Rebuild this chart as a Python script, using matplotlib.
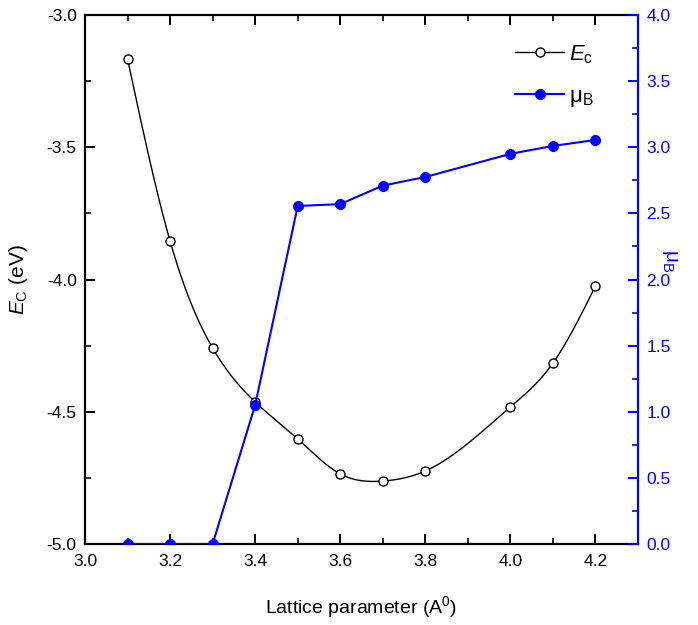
import numpy as np
import matplotlib
matplotlib.use("Agg")
import matplotlib.pyplot as plt
from matplotlib.ticker import MultipleLocator, FormatStrFormatter
from matplotlib.lines import Line2D

plt.rcParams['font.family'] = ['Liberation Sans', 'DejaVu Sans']
plt.rcParams['mathtext.fontset'] = 'custom'
plt.rcParams['mathtext.rm'] = 'Liberation Sans'
plt.rcParams['mathtext.it'] = 'Liberation Sans:italic'

lattice = [3.1, 3.2, 3.3, 3.4, 3.5, 3.6, 3.7, 3.8, 4.0, 4.1, 4.2]
ec = [-3.166, -3.855, -4.259, -4.463, -4.603, -4.735, -4.762, -4.724, -4.482, -4.316, -4.025]
mub = [0.0, 0.0, 0.0, 1.05, 2.556, 2.57, 2.71, 2.775, 2.95, 3.01, 3.055]

BLUE = '#0000ff'


def natural_spline(x, y, n=400):
    x = np.asarray(x, float)
    y = np.asarray(y, float)
    m = len(x)
    h = np.diff(x)
    A = np.zeros((m, m))
    b = np.zeros(m)
    A[0, 0] = 1
    A[-1, -1] = 1
    for i in range(1, m - 1):
        A[i, i - 1] = h[i - 1]
        A[i, i] = 2 * (h[i - 1] + h[i])
        A[i, i + 1] = h[i]
        b[i] = 3 * ((y[i + 1] - y[i]) / h[i] - (y[i] - y[i - 1]) / h[i - 1])
    c = np.linalg.solve(A, b)
    xs = np.linspace(x[0], x[-1], n)
    ys = np.empty_like(xs)
    for k, xv in enumerate(xs):
        i = min(np.searchsorted(x, xv, side='right') - 1, m - 2)
        dx = xv - x[i]
        bb = (y[i + 1] - y[i]) / h[i] - h[i] * (c[i + 1] + 2 * c[i]) / 3
        d = (c[i + 1] - c[i]) / (3 * h[i])
        ys[k] = y[i] + bb * dx + c[i] * dx ** 2 + d * dx ** 3
    return xs, ys


fig = plt.figure(figsize=(6.98, 6.25), dpi=100)
ax = fig.add_axes([85 / 698, 1 - 544 / 625, (638 - 85) / 698, (544 - 15) / 625])
ax2 = ax.twinx()

xs, ys = natural_spline(lattice, ec)
ax.plot(xs, ys, color='black', lw=1.0, zorder=2)
ax.plot(lattice, ec, 'o', mfc='white', mec='black', ms=6.5, mew=1.0, zorder=3)
ax2.plot(lattice, mub, '-o', color=BLUE, lw=1.5, ms=7, zorder=3)

ax.set_xlim(3.0, 4.3)
ax.set_ylim(-5.0, -3.0)
ax2.set_ylim(0.0, 4.0)

ax.xaxis.set_major_locator(MultipleLocator(0.2))
ax.xaxis.set_minor_locator(MultipleLocator(0.1))
ax.yaxis.set_major_locator(MultipleLocator(0.5))
ax.yaxis.set_minor_locator(MultipleLocator(0.25))
ax2.yaxis.set_major_locator(MultipleLocator(0.5))
ax2.yaxis.set_minor_locator(MultipleLocator(0.25))
ax.xaxis.set_major_formatter(FormatStrFormatter('%.1f'))
ax.yaxis.set_major_formatter(FormatStrFormatter('%.1f'))
ax2.yaxis.set_major_formatter(FormatStrFormatter('%.1f'))

for s in ['left', 'bottom', 'top']:
    ax.spines[s].set_linewidth(1.6)
ax.spines['right'].set_visible(False)
for s in ['left', 'bottom', 'top']:
    ax2.spines[s].set_visible(False)
ax2.spines['right'].set_color(BLUE)
ax2.spines['right'].set_linewidth(1.6)

ax.tick_params(axis='x', which='both', direction='in', top=True, labelsize=12.5, pad=7)
ax.tick_params(axis='y', which='both', direction='in', right=False, labelsize=12.5, pad=6)
ax.tick_params(which='major', length=7, width=1.4)
ax.tick_params(which='minor', length=4, width=1.2)
ax2.tick_params(axis='y', which='both', direction='in', colors=BLUE, labelsize=12.5, pad=6)
ax2.tick_params(which='major', length=7, width=1.4)
ax2.tick_params(which='minor', length=4, width=1.2)

ax.set_xlabel('Lattice parameter (A$^{0}$)', fontsize=14, labelpad=18)
ax.set_ylabel('$E_{\\mathrm{C}}$ (eV)', fontsize=15, labelpad=12)
ax2.set_ylabel('$\\mathrm{\\mu}_{\\mathrm{B}}$', fontsize=15, color=BLUE, rotation=270,
               ha='center', va='center')
ax2.yaxis.set_label_coords(1.057, 0.535)

h1 = Line2D([], [], color='black', lw=1.0, marker='o', mfc='white', mec='black', ms=6.5)
h2 = Line2D([], [], color=BLUE, lw=1.5, marker='o', ms=7)
leg = ax.legend([h1, h2], ['$E_{\\mathrm{c}}$', '$\\mathrm{\\mu}_{\\mathrm{B}}$'],
                loc='upper right', bbox_to_anchor=(0.955, 0.985), frameon=False,
                fontsize=16, handlelength=2.2, handletextpad=0.2, labelspacing=0.9)

fig.savefig('out.png', dpi=100)
